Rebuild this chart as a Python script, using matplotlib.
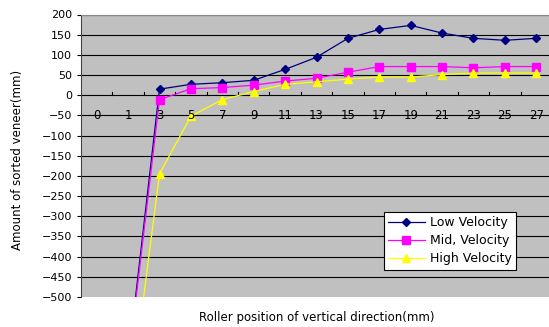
import numpy as np
import matplotlib
matplotlib.use("Agg")
import matplotlib.pyplot as plt

# categorias del eje x (posicion del rodillo)
posiciones = ["0", "1", "3", "5", "7", "9", "11", "13", "15", "17", "19", "21", "23", "25", "27"]
nan = np.nan
baja = [nan, -660, 15, 27, 31, 37, 64, 94, 141, 163, 173, 154, 141, 136, 141]
media = [nan, -670, -11, 16, 19, 25, 35, 42, 57, 71, 71, 71, 68, 71, 71]
alta = [nan, -800, -195, -52, -11, 9, 27, 33, 40, 45, 45, 51, 55, 55, 55]

fig = plt.figure(figsize=(5.49, 3.27), dpi=100)
ax = fig.add_axes([81/549, 1-297/327, 471/549, (297-14.5)/327])
ax.set_facecolor("#C0C0C0")

x = np.arange(len(posiciones))
ax.plot(x, baja, color="#000080", marker="D", markersize=4.5, linewidth=0.9, label="Low Velocity")
ax.plot(x, media, color="#FF00FF", marker="s", markersize=5.5, linewidth=0.9, label="Mid, Velocity")
ax.plot(x, alta, color="#FFFF00", marker="^", markersize=6, linewidth=0.9, label="High Velocity")

ax.set_xlim(-0.5, len(posiciones) - 0.5)
ax.set_ylim(-500, 200)
ax.set_yticks(np.arange(-500, 201, 50))
for v in np.arange(-450, 201, 50):
    ax.axhline(v, color="black", linewidth=0.8, zorder=0.5)
ax.tick_params(axis="y", labelsize=8, length=3, direction="out")
ax.set_xticks([])

# marcas del eje x sobre y=0 entre categorias
for b in np.arange(0.5, len(posiciones) - 0.5, 1):
    ax.plot([b, b], [0, 7], color="black", linewidth=0.8, zorder=0.6)
for i, p in enumerate(posiciones):
    ax.text(i, -50, p, ha="center", va="center", fontsize=8.5, color="black")

for s in ["top", "right"]:
    ax.spines[s].set_color("#888888")
ax.spines["bottom"].set_visible(False)
ax.spines["left"].set_color("#444444")

leg = ax.legend(loc="lower right", bbox_to_anchor=(441/471, (297-276)/282.5),
                fontsize=9, frameon=True, fancybox=False, framealpha=1,
                edgecolor="black", borderpad=0.35, labelspacing=0.4,
                handlelength=2.9, handletextpad=0.4)
leg.get_frame().set_linewidth(0.8)

fig.text(18/549, 1-160/327, "Amount of sorted veneer(mm)", rotation=90,
         ha="center", va="center", fontsize=8.5)
fig.text(317/549, 1-318/327, "Roller position of vertical direction(mm)",
         ha="center", va="center", fontsize=8.5)

fig.savefig("out.png", dpi=100)
